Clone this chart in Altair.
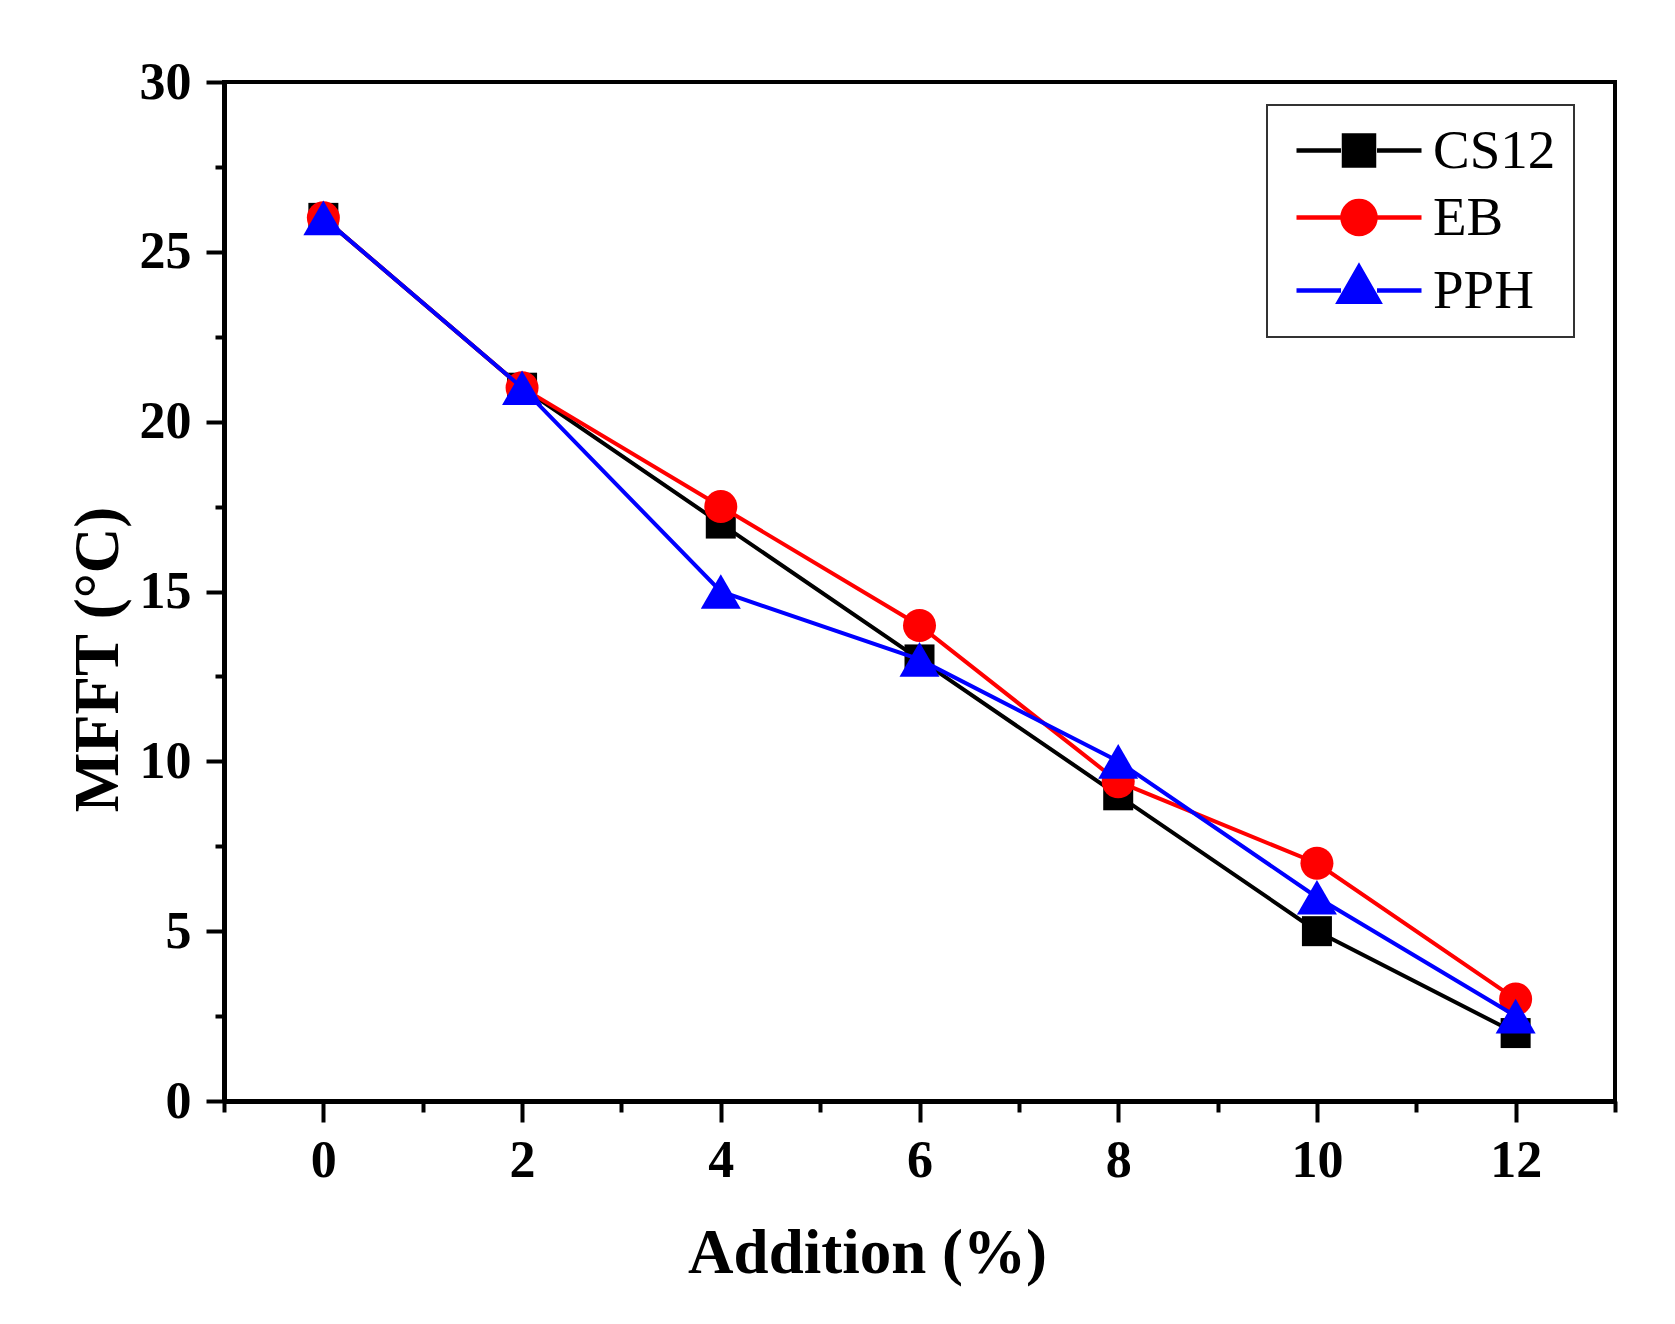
import altair as alt
import pandas as pd

# ---- data ----
additions = [0, 2, 4, 6, 8, 10, 12]
cs12 = [26, 21, 17, 13, 9, 5, 2]
eb = [26, 21, 17.5, 14, 9.4, 7, 3]
pph = [26, 21, 15, 13, 10, 6, 2.5]
series_names = ["CS12", "EB", "PPH"]
series_values = [cs12, eb, pph]

# ---- styles ----
series_colors = ["#000000", "#ff0000", "#0000ff"]
point_shapes = ["square", "circle", "triangle-up"]
point_sizes = [900, 1089, 1600]
# legend symbols: line - marker - line (units of 25px, marker centred at x=1.5)
legend_paths = [
    "M-1,0H0.78M2.22,0H4M0.9,-0.6H2.1V0.6H0.9Z",
    "M-1,0H0.78M2.22,0H4M2.16,0A0.66,0.66,0,1,1,0.84,0A0.66,0.66,0,1,1,2.16,0Z",
    "M-1,0H0.78M2.22,0H4M1.5,-0.95L2.3,0.45L0.7,0.45Z",
]

rows = []
for name, vals in zip(series_names, series_values):
    for xv, yv in zip(additions, vals):
        rows.append({"series": name, "x": xv, "y": yv})
df = pd.DataFrame(rows)

FONT = "Liberation Serif"

x_axis = alt.Axis(
    values=list(range(-1, 14)),
    tickSize={"condition": {"test": "datum.value % 2 === 0", "value": 21}, "value": 11},
    labelExpr="datum.value % 2 === 0 ? datum.label : ''",
    labelPadding=13,
    labelFlush=False,
    labelOverlap=False,
    title="Addition (%)",
    titleX=643,
    titleY=171,
    titleBaseline="alphabetic",
)
y_axis = alt.Axis(
    values=[i * 2.5 for i in range(13)],
    tickSize={"condition": {"test": "datum.value % 5 === 0", "value": 18}, "value": 9},
    labelExpr="datum.value % 5 === 0 ? datum.label : ''",
    labelPadding=15,
    labelOverlap=False,
    title="MFFT (°C)",
    titleX=-107,
    titleY=577,
    titleBaseline="alphabetic",
)

x_enc = alt.X("x:Q", scale=alt.Scale(domain=[-1, 13], nice=False), axis=x_axis)
y_enc = alt.Y("y:Q", scale=alt.Scale(domain=[0, 30], nice=False), axis=y_axis)

layers = []
for name, col, shp, sz in zip(series_names, series_colors, point_shapes, point_sizes):
    base = alt.Chart(df).transform_filter(alt.datum.series == name)
    layers.append(base.mark_line(color=col, strokeWidth=4).encode(x=x_enc, y=y_enc))
    layers.append(
        base.mark_point(shape=shp, size=sz, filled=True, color=col, opacity=1).encode(x=x_enc, y=y_enc)
    )

leg = alt.Legend(
    title=None,
    orient="none",
    legendX=1043,
    legendY=23,
    symbolSize=2500,
    symbolStrokeWidth=4.5,
    symbolOffset=9,
    symbolOpacity=1,
    labelOffset=84,
    padding=18,
    rowPadding=11,
    labelFont=FONT,
    labelFontSize=55,
    labelColor="black",
    strokeColor="#333333",
)

legend_layer = (
    alt.Chart(df)
    .transform_filter("datum.x > 100")
    .mark_point(filled=True)
    .encode(
        x=x_enc,
        y=y_enc,
        fill=alt.Fill("series:N", scale=alt.Scale(domain=series_names, range=series_colors), legend=leg),
        stroke=alt.Stroke("series:N", scale=alt.Scale(domain=series_names, range=series_colors), legend=leg),
        shape=alt.Shape("series:N", scale=alt.Scale(domain=series_names, range=legend_paths), legend=leg),
    )
)

chart = (
    alt.layer(*layers, legend_layer)
    .properties(
        width=1391,
        height=1019,
        padding={"left": 216, "top": 74, "right": 40, "bottom": 190},
        autosize=alt.AutoSizeParams(type="none"),
        background="white",
    )
    .configure_view(stroke="black", strokeWidth=4)
    .configure_axis(
        grid=False,
        domainColor="black",
        domainWidth=5,
        tickColor="black",
        tickWidth=4,
        labelFont=FONT,
        labelFontWeight="bold",
        labelFontSize=52,
        labelColor="black",
        titleFont=FONT,
        titleFontWeight="bold",
        titleFontSize=63,
        titleColor="black",
    )
    .configure_legend(strokeWidth=2)
)

chart.save("out.html", embed_options={"renderer": "svg", "actions": False})
